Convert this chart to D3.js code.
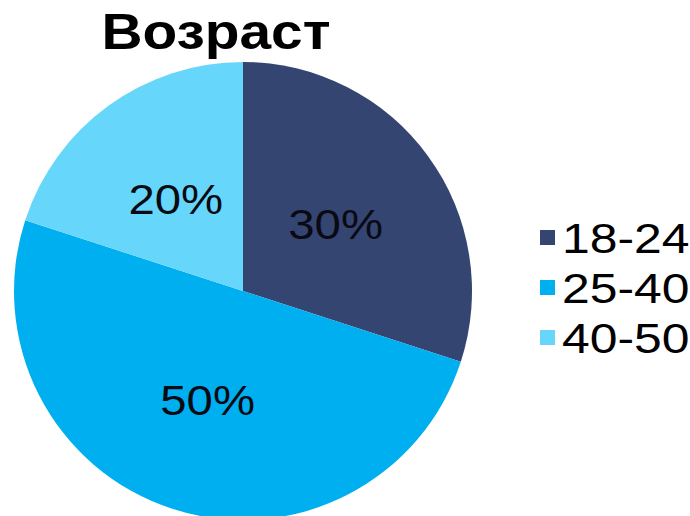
<!DOCTYPE html>
<html>
<head>
<meta charset="utf-8">
<script src="https://cdn.jsdelivr.net/npm/d3@7"></script>
<style>
  body { margin: 0; background: #fff; }
  text { font-family: "Liberation Sans", Arial, sans-serif; }
</style>
</head>
<body>
<script>
// data
const categories = ["18-24", "25-40", "40-50"];
const values = [30, 50, 20];
const colors = ["#344571", "#00AFEF", "#66D7FA"];
const title = "Возраст";

const width = 690, height = 516;
const cx = 243, cy = 291, radius = 229;

const svg = d3.select("body").append("svg")
  .attr("width", width)
  .attr("height", height);

// title (the original text is a bit stretched sideways)
svg.append("text")
  .attr("transform", "translate(216,49) scale(1.16,1)")
  .attr("text-anchor", "middle")
  .style("font-size", "49px")
  .style("font-weight", "bold")
  .text(title);

const data = categories.map((c, i) => ({cat: c, value: values[i], color: colors[i]}));

const pie = d3.pie().sort(null).value(d => d.value);
const arc = d3.arc().innerRadius(0).outerRadius(radius);

const g = svg.append("g").attr("transform", `translate(${cx},${cy})`);

const slices = g.selectAll("g.slice")
  .data(pie(data))
  .enter().append("g").attr("class", "slice");

slices.append("path")
  .attr("d", arc)
  .style("fill", d => d.data.color);

slices.append("text")
  .attr("transform", d => `translate(${arc.centroid(d)}) scale(1.1,1)`)
  .attr("dy", "0.36em")
  .attr("text-anchor", "middle")
  .style("font-size", "43px")
  .style("fill", "#0a0a14")
  .text(d => d.data.value + "%");

// legend
const legend = svg.append("g").attr("transform", "translate(540,230)");
const rows = legend.selectAll("g")
  .data(data)
  .enter().append("g")
  .attr("transform", (d, i) => `translate(0,${i * 50})`);

rows.append("rect")
  .attr("width", 15)
  .attr("height", 15)
  .style("fill", d => d.color);

rows.append("text")
  .attr("transform", "translate(22,23) scale(1.16,1)")
  .style("font-size", "43px")
  .text(d => d.cat);
</script>
</body>
</html>
